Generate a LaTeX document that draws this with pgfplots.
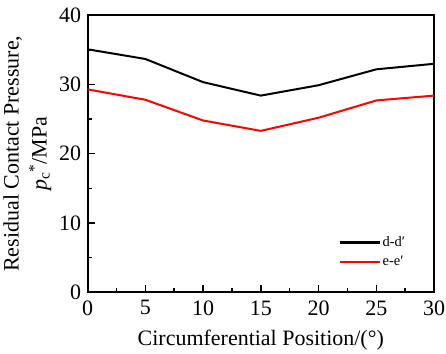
\documentclass[border=0pt]{standalone}
\usepackage{fontspec}
\setmainfont{Liberation Serif}
\usepackage{pgfplots}
\pgfplotsset{compat=1.18}
\begin{document}
\begin{tikzpicture}
\begin{axis}[
  scale only axis,
  width=347pt, height=277pt,
  xmin=0, xmax=30, ymin=0, ymax=40,
  xtick={0,5,...,30}, ytick={0,10,...,40},
  minor x tick num=1, minor y tick num=1,
  tick align=inside,
  xtick pos=bottom, ytick pos=left,
  major tick length=7pt, minor tick length=4pt,
  tick style={line width=1.5pt, black},
  axis line style={line width=2pt},
  /pgf/number format/assume math mode=true,
  tick label style={font=\fontsize{22}{24}\selectfont},
  label style={font=\fontsize{22}{28}\selectfont},
  xlabel={Circumferential Position/(°)},
  ylabel={Residual Contact Pressure,\\\textit{p}\textsubscript{c}\textsuperscript{*}/MPa},
  ylabel style={align=center, yshift=1pt},
  xlabel style={yshift=-8pt},
  xticklabel style={yshift=-5pt, inner xsep=1pt},
  yticklabel style={xshift=-3pt, inner ysep=8pt},
  legend style={draw=none, fill=none, at={(0.715,0.215)}, anchor=north west,
    font=\fontsize{14.5}{17}\selectfont, row sep=4pt},
  legend cell align=left,
]
\addplot[forget plot, color=black, line width=2pt] coordinates {(0,35.1) (5,33.7) (10,30.35) (15,28.4) (20,29.9) (25,32.2) (30,33.0)};
\addplot[forget plot, color=red, line width=2pt] coordinates {(0,29.3) (5,27.8) (10,24.8) (15,23.3) (20,25.2) (25,27.7) (30,28.4)};
\addlegendimage{legend image code/.code={\draw[black, line width=2.2pt] (0pt,0pt) -- (40pt,0pt);}}
\addlegendentry{d-d′}
\addlegendimage{legend image code/.code={\draw[red, line width=2.2pt] (0pt,0pt) -- (40pt,0pt);}}
\addlegendentry{e-e′}
\end{axis}
\end{tikzpicture}
\end{document}
